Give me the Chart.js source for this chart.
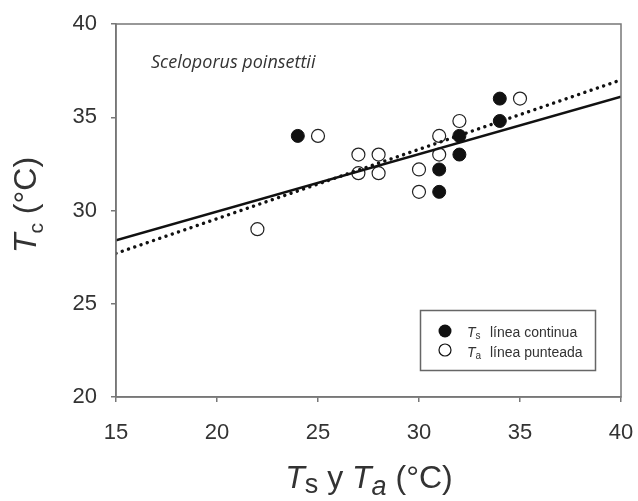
<!DOCTYPE html>
<html>
<head>
<meta charset="utf-8">
<script src="https://cdn.jsdelivr.net/npm/chart.js@4.4.1/dist/chart.umd.min.js"></script>
<style>
  body { margin: 0; background: #fff; }
  #wrap { width: 638px; height: 501px; }
</style>
</head>
<body>
<div id="wrap"><canvas id="tcChart" width="638" height="501"></canvas></div>
<script>
// datos
const tsX = [24, 31, 31, 32, 32, 34, 34];
const tsY = [34, 31, 32.2, 33, 34, 34.8, 36];
const taX = [22, 25, 27, 27, 28, 28, 30, 30, 31, 31, 32, 35];
const taY = [29, 34, 32, 33, 32, 33, 31, 32.2, 33, 34, 34.8, 36];
const fitX = [15, 40];
const fitTs = [28.4, 36.1];
const fitTa = [27.7, 37.0];
const xTicks = [15, 20, 25, 30, 35, 40];
const yTicks = [20, 25, 30, 35, 40];

const axisGray = '#777';
const textGray = '#333';

function toPoints(xs, ys) {
  return xs.map((x, i) => ({ x: x, y: ys[i] }));
}

// dibuja un texto con partes en cursiva / subindice
function drawParts(ctx, parts, x, y, align) {
  let total = 0;
  parts.forEach(p => {
    ctx.font = p.font;
    total += ctx.measureText(p.text).width;
  });
  let cx = align === 'center' ? x - total / 2 : x;
  parts.forEach(p => {
    ctx.font = p.font;
    ctx.fillText(p.text, cx, y + (p.dy || 0));
    cx += ctx.measureText(p.text).width;
  });
}

const extras = {
  id: 'extras',
  afterDraw(chart) {
    const ctx = chart.ctx;
    const a = chart.chartArea;
    ctx.save();

    // marco
    ctx.strokeStyle = axisGray;
    ctx.lineWidth = 1.5;
    ctx.strokeRect(a.left, a.top, a.right - a.left, a.bottom - a.top);

    ctx.fillStyle = textGray;
    ctx.textBaseline = 'alphabetic';
    ctx.textAlign = 'left';
    const sans = '"Liberation Sans", Arial, sans-serif';

    // especie
    ctx.font = 'italic 18px "Open Sans", sans-serif';
    ctx.textBaseline = 'middle';
    ctx.fillText('Sceloporus poinsettii', 151, 63);
    ctx.textBaseline = 'alphabetic';

    // titulo eje x
    drawParts(ctx, [
      { text: 'T', font: 'italic 32px ' + sans },
      { text: 's', font: '27px ' + sans, dy: 5 },
      { text: ' y ', font: '32px ' + sans },
      { text: 'T', font: 'italic 32px ' + sans },
      { text: 'a', font: 'italic 27px ' + sans, dy: 7 },
      { text: ' (°C)', font: '32px ' + sans }
    ], 369, 488, 'center');

    // titulo eje y
    ctx.save();
    ctx.translate(36, 205);
    ctx.rotate(-Math.PI / 2);
    drawParts(ctx, [
      { text: 'T', font: 'italic 32px ' + sans },
      { text: 'c', font: '21px ' + sans, dy: 7 },
      { text: ' (°C)', font: '32px ' + sans }
    ], 0, 0, 'center');
    ctx.restore();

    // leyenda
    ctx.fillStyle = '#fff';
    ctx.fillRect(421, 311, 174, 59);
    ctx.strokeStyle = '#666';
    ctx.lineWidth = 1.5;
    ctx.strokeRect(420.5, 310.5, 175, 60);

    ctx.fillStyle = '#111';
    ctx.beginPath();
    ctx.arc(445, 331, 6.5, 0, Math.PI * 2);
    ctx.fill();
    ctx.fillStyle = '#fff';
    ctx.strokeStyle = '#111';
    ctx.lineWidth = 1.2;
    ctx.beginPath();
    ctx.arc(445, 350, 6, 0, Math.PI * 2);
    ctx.fill();
    ctx.stroke();

    ctx.fillStyle = textGray;
    drawParts(ctx, [
      { text: 'T', font: 'italic 14px ' + sans },
      { text: 's', font: '10px ' + sans, dy: 2 }
    ], 467, 337, 'left');
    ctx.font = '14px ' + sans;
    ctx.fillText('línea continua', 490, 337);
    drawParts(ctx, [
      { text: 'T', font: 'italic 14px ' + sans },
      { text: 'a', font: '10px ' + sans, dy: 2 }
    ], 467, 357, 'left');
    ctx.font = '14px ' + sans;
    ctx.fillText('línea punteada', 490, 357);

    ctx.restore();
  }
};

function axisOptions(min, max, ticks, fit) {
  return {
    type: 'linear',
    min: min,
    max: max,
    afterBuildTicks: scale => { scale.ticks = ticks.map(v => ({ value: v })); },
    afterFit: fit,
    grid: {
      drawOnChartArea: false,
      drawTicks: true,
      tickLength: 5,
      color: axisGray,
      lineWidth: 1.5
    },
    border: { color: axisGray, width: 1.5 },
    ticks: {
      color: textGray,
      font: { family: '"Liberation Sans", Arial, sans-serif', size: 22 },
      padding: 14
    }
  };
}

function createChart() {
  const ctx = document.getElementById('tcChart').getContext('2d');
  const xAxis = axisOptions(15, 40, xTicks, s => {
    s.height = 104;
    s.paddingLeft = 0;
    s.paddingRight = 0;
  });
  xAxis.ticks.padding = 18;
  xAxis.ticks.maxRotation = 0;
  const yAxis = axisOptions(20, 40, yTicks, s => {
    s.width = 116;
    s.paddingTop = 0;
    s.paddingBottom = 0;
  });

  new Chart(ctx, {
    type: 'scatter',
    data: {
      datasets: [
        {
          label: 'Ts línea continua',
          type: 'line',
          data: toPoints(fitX, fitTs),
          borderColor: '#111',
          borderWidth: 2.6,
          pointRadius: 0,
          fill: false
        },
        {
          label: 'Ta línea punteada',
          type: 'line',
          data: toPoints(fitX, fitTa),
          borderColor: '#111',
          borderWidth: 3.4,
          borderDash: [0.01, 6.6],
          borderCapStyle: 'round',
          pointRadius: 0,
          fill: false
        },
        {
          label: 'Ts',
          data: toPoints(tsX, tsY),
          backgroundColor: '#111',
          borderColor: '#111',
          borderWidth: 1,
          pointRadius: 6.5
        },
        {
          label: 'Ta',
          data: toPoints(taX, taY),
          backgroundColor: '#fff',
          borderColor: '#222',
          borderWidth: 1.2,
          pointRadius: 6.5
        }
      ]
    },
    options: {
      responsive: false,
      animation: false,
      devicePixelRatio: 1,
      layout: { padding: { left: 0, top: 24, right: 17, bottom: 0 } },
      plugins: {
        legend: { display: false },
        tooltip: { enabled: false }
      },
      scales: { x: xAxis, y: yAxis }
    },
    plugins: [extras]
  });
}

document.addEventListener('DOMContentLoaded', createChart);
</script>
</body>
</html>
